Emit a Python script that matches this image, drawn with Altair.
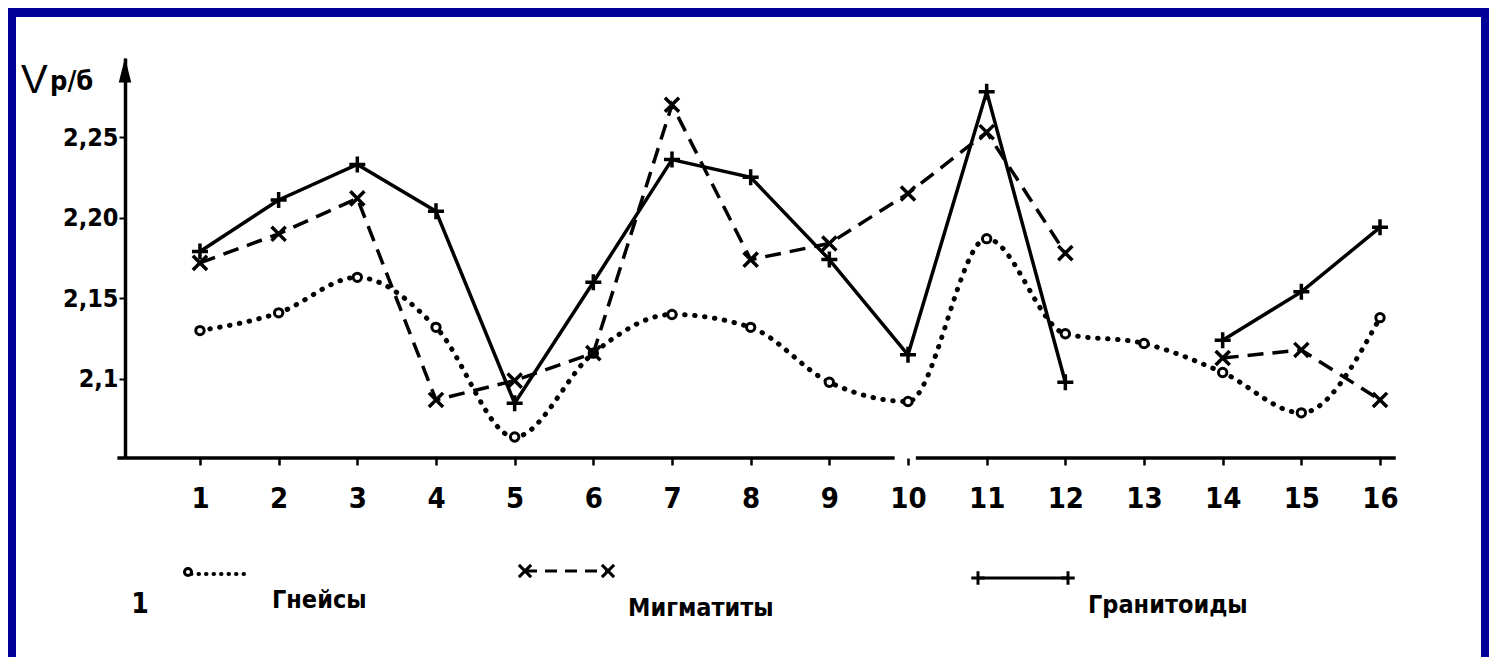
import altair as alt
import pandas as pd

# ---------------- data ----------------
sites = list(range(1, 17))
gneiss = [2.130, 2.141, 2.163, 2.132, 2.064, 2.116, 2.140, 2.132,
          2.098, 2.086, 2.187, 2.128, 2.122, 2.104, 2.079, 2.138]
migmatite = [2.172, 2.190, 2.212, 2.087, 2.099, 2.116, 2.270, 2.174,
             2.184, 2.215, 2.253, 2.178, None, 2.113, 2.118, 2.087]
granitoid = [2.179, 2.211, 2.233, 2.204, 2.085, 2.160, 2.236, 2.225,
             2.174, 2.115, 2.278, 2.098, None, 2.124, 2.154, 2.194]
series_names = ["Гнейсы", "Мигматиты", "Гранитоиды"]
y_ticks = [2.1, 2.15, 2.2, 2.25]
y_tick_labels = ["2,1", "2,15", "2,20", "2,25"]
x_domain = [0.047, 16.254]
y_domain = [2.051, 2.299]
baseline_start = [-0.05, 10.1]
baseline_end = [9.83, 16.2]

FONT = "Liberation Sans Narrow, DejaVu Sans Condensed, Liberation Sans, sans-serif"
BLUE = "#000099"

rows = []
for name, vals in zip(series_names, [gneiss, migmatite, granitoid]):
    part = 0
    for s, v in zip(sites, vals):
        if v is None:
            part += 1
            continue
        rows.append({"site": s, "value": v, "series": name, "part": f"{name}-{part}"})
df = pd.DataFrame(rows)

label_expr = ""
for v, lab in zip(y_ticks, y_tick_labels):
    label_expr += f"abs(datum.value - {v}) < 1e-6 ? '{lab}' : "
label_expr += "datum.label"

xs = alt.Scale(domain=x_domain, nice=False, zero=False)
ys = alt.Scale(domain=y_domain, nice=False, zero=False)

x_enc = alt.X("site:Q", scale=xs, axis=alt.Axis(
    values=sites, format="d", title=None, grid=False, domain=False,
    tickColor="black", tickSize=7, tickWidth=2.5,
    labelFont=FONT, labelFontSize=29, labelFontWeight="bold", labelColor="black",
    labelPadding=19, labelFlush=False))
y_enc = alt.Y("value:Q", scale=ys, axis=alt.Axis(
    values=y_ticks, labelExpr=label_expr, title=None, grid=False,
    domainColor="black", domainWidth=3.5, tickColor="black", tickSize=6,
    tickWidth=2, labelFont=FONT, labelFontSize=25, labelFontWeight="bold",
    labelColor="black", labelPadding=1))

base = alt.Chart(df)

axes_layer = base.mark_point(opacity=0).encode(x=x_enc, y=y_enc)

bl_df = pd.DataFrame({"x1": baseline_start, "x2": baseline_end})
baseline = alt.Chart(bl_df).mark_rule(color="black", strokeWidth=3.5).encode(
    x=alt.X("x1:Q", scale=xs), x2="x2:Q", y=alt.value(400))

def sub(name):
    return base.transform_filter(alt.datum.series == name)

g_line = sub("Гнейсы").mark_line(color="black", strokeWidth=5, strokeDash=[0.5, 9.5],
                                  strokeCap="round", interpolate="monotone").encode(
    x=alt.X("site:Q", scale=xs), y=alt.Y("value:Q", scale=ys), detail="part:N")
g_pts = sub("Гнейсы").mark_point(shape="circle", size=70, filled=True, fill="white",
                                  stroke="black", strokeWidth=3, opacity=1).encode(
    x=alt.X("site:Q", scale=xs), y=alt.Y("value:Q", scale=ys))

X_SHAPE = "M-1,-1L1,1M-1,1L1,-1"
PLUS_SHAPE = "M-1,0L1,0M0,-1L0,1"

m_line = sub("Мигматиты").mark_line(color="black", strokeWidth=3.5, strokeDash=[16, 9]).encode(
    x=alt.X("site:Q", scale=xs), y=alt.Y("value:Q", scale=ys), detail="part:N")
m_pts = sub("Мигматиты").mark_point(shape=X_SHAPE, size=200, filled=False,
                                     color="black", strokeWidth=3.5, opacity=1).encode(
    x=alt.X("site:Q", scale=xs), y=alt.Y("value:Q", scale=ys))

r_line = sub("Гранитоиды").mark_line(color="black", strokeWidth=3.5).encode(
    x=alt.X("site:Q", scale=xs), y=alt.Y("value:Q", scale=ys), detail="part:N")
r_pts = sub("Гранитоиды").mark_point(shape=PLUS_SHAPE, size=256, filled=False,
                                      color="black", strokeWidth=3.5, opacity=1).encode(
    x=alt.X("site:Q", scale=xs), y=alt.Y("value:Q", scale=ys))

one = alt.Chart(pd.DataFrame({"a": [0]}))

# arrow head on the y axis
arrow = one.mark_point(shape="M0,-1L0.5,1L-0.5,1Z", size=625, filled=True,
                       color="black", opacity=1).encode(x=alt.value(0), y=alt.value(12))

# y-axis title  Vp/б
t_v = one.mark_text(text="V", font="Liberation Sans", fontSize=40, align="left",
                    baseline="alphabetic", color="black").encode(x=alt.value(-104), y=alt.value(35))
t_pb = one.mark_text(text="p/б", font=FONT, fontSize=27, fontWeight="bold", align="left",
                     baseline="alphabetic", color="black").encode(x=alt.value(-75), y=alt.value(32))

# legend
LEG_FS = 25
leg_num = one.mark_text(text="1", font=FONT, fontSize=28, fontWeight="bold", align="center",
                        baseline="middle", color="black").encode(x=alt.value(15), y=alt.value(547))
leg_g_line = one.mark_rule(color="black", strokeWidth=4, strokeDash=[0.5, 7],
                           strokeCap="round").encode(
    x=alt.value(66), x2=alt.value(120), y=alt.value(516))
leg_g_pt = one.mark_point(shape="circle", size=50, filled=True, fill="white", stroke="black",
                          strokeWidth=3, opacity=1).encode(x=alt.value(63), y=alt.value(514))
leg_g_txt = one.mark_text(text="Гнейсы", font=FONT, fontSize=LEG_FS, fontWeight="bold",
                          align="left", baseline="middle", color="black").encode(
    x=alt.value(147), y=alt.value(542))

leg_m_line = one.mark_rule(color="black", strokeWidth=3, strokeDash=[12, 8]).encode(
    x=alt.value(400), x2=alt.value(483), y=alt.value(513))
leg_m_pts = alt.Chart(pd.DataFrame({"p": [400, 483]})).mark_point(
    shape=X_SHAPE, size=150, filled=False, color="black", strokeWidth=3, opacity=1).encode(
    x=alt.X("p:Q", scale=None), y=alt.value(513))
leg_m_txt = one.mark_text(text="Мигматиты", font=FONT, fontSize=LEG_FS, fontWeight="bold",
                          align="left", baseline="middle", color="black").encode(
    x=alt.value(503), y=alt.value(550))

leg_r_line = one.mark_rule(color="black", strokeWidth=3).encode(
    x=alt.value(853), x2=alt.value(943), y=alt.value(520))
leg_r_pts = alt.Chart(pd.DataFrame({"p": [853, 943]})).mark_point(
    shape=PLUS_SHAPE, size=180, filled=False, color="black", strokeWidth=3, opacity=1).encode(
    x=alt.X("p:Q", scale=None), y=alt.value(520))
leg_r_txt = one.mark_text(text="Гранитоиды", font=FONT, fontSize=LEG_FS, fontWeight="bold",
                          align="left", baseline="middle", color="black").encode(
    x=alt.value(963), y=alt.value(547))

# blue frame of the slide
frame_left = one.mark_rect(color=BLUE).encode(
    x=alt.value(-117), x2=alt.value(-109), y=alt.value(-50), y2=alt.value(599))
frame_top = one.mark_rect(color=BLUE).encode(
    x=alt.value(-117), x2=alt.value(1364), y=alt.value(-50), y2=alt.value(-41))
frame_right = one.mark_rect(color=BLUE).encode(
    x=alt.value(1356), x2=alt.value(1364), y=alt.value(-50), y2=alt.value(599))

chart = alt.layer(
    axes_layer, baseline, arrow,
    g_line, m_line, r_line, g_pts, m_pts, r_pts,
    t_v, t_pb,
    leg_num, leg_g_line, leg_g_pt, leg_g_txt,
    leg_m_line, leg_m_pts, leg_m_txt,
    leg_r_line, leg_r_pts, leg_r_txt,
    frame_left, frame_top, frame_right,
).properties(
    width=1275, height=400,
    autosize=alt.AutoSizeParams(type="none"),
    padding={"left": 117, "top": 50, "right": 89, "bottom": 199},
    background="white",
).configure_view(stroke=None)

chart.save("out.html", embed_options={"renderer": "svg", "actions": False})
